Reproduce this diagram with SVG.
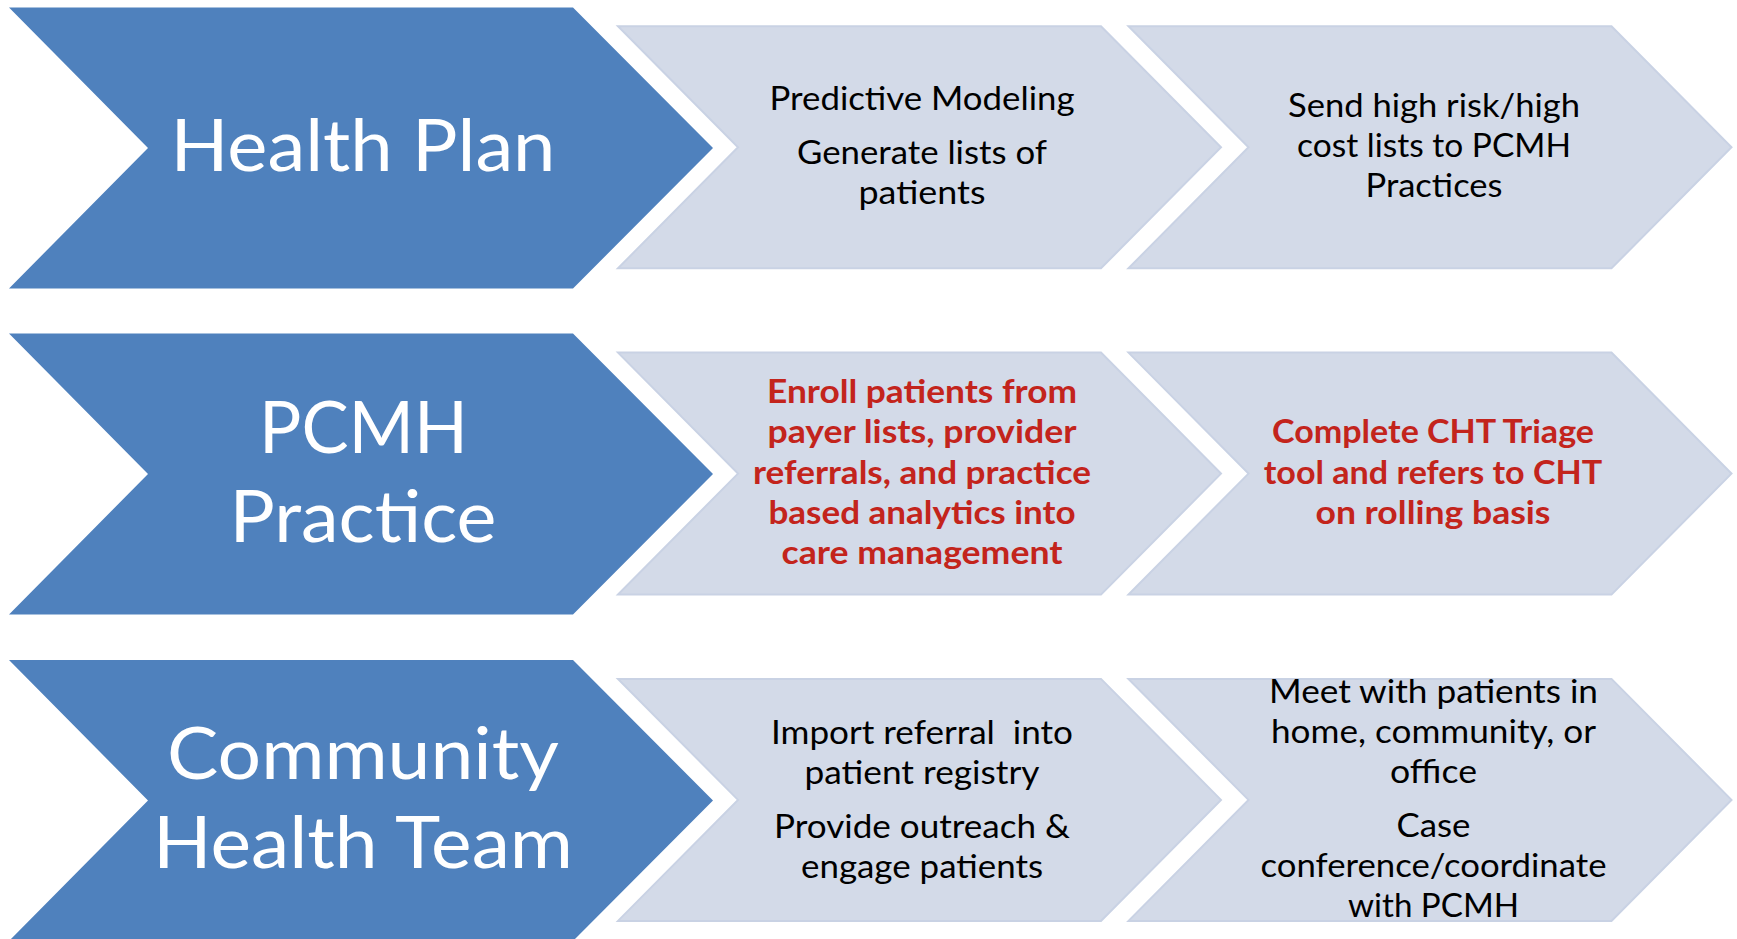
<svg xmlns="http://www.w3.org/2000/svg" xmlns:xlink="http://www.w3.org/1999/xlink" width="1737" height="939" viewBox="0 0 1737 939">
<style>
.blue{fill:#4F81BD;}
.gray{fill:#D3DAE8;stroke:#C9D2E4;stroke-width:2;}
.hd{font-family:Lato,"Liberation Sans",sans-serif;font-size:72px;fill:#FFFFFF;text-anchor:middle;}
.tx{font-family:Lato,"Liberation Sans",sans-serif;font-size:33px;fill:#000000;text-anchor:middle;}
.rd{font-family:Lato,"Liberation Sans",sans-serif;font-size:33px;font-weight:bold;fill:#C3241C;text-anchor:middle;}
</style>
<defs>
<polygon id="bchev" points="0,0 564,0 704,140.5 564,281 0,281 139,140.5"/>
<polygon id="gchev" points="0,0 483,0 603,121 483,242 0,242 120,121"/>
</defs>
<rect width="1737" height="939" fill="#FFFFFF"/>
<g id="connectors"/>
<g id="health-plan">
<use xlink:href="#bchev" href="#bchev" class="blue" x="9" y="7.5"/>
<text class="hd" x="363" y="170.5" textLength="385" lengthAdjust="spacingAndGlyphs">Health Plan</text>
</g>
<g id="hp-step1">
<use xlink:href="#gchev" href="#gchev" class="gray" x="618" y="26.3"/>
<text class="tx" x="922" y="110" textLength="305" lengthAdjust="spacingAndGlyphs">Predictive Modeling</text>
<text class="tx" x="922" y="164" textLength="250" lengthAdjust="spacingAndGlyphs">Generate lists of</text>
<text class="tx" x="922" y="203.5" textLength="127" lengthAdjust="spacingAndGlyphs">patients</text>
</g>
<g id="hp-step2">
<use xlink:href="#gchev" href="#gchev" class="gray" x="1128.5" y="26.3"/>
<text class="tx" x="1434" y="117.3" textLength="292" lengthAdjust="spacingAndGlyphs">Send high risk/high</text>
<text class="tx" x="1434" y="157.3" textLength="274" lengthAdjust="spacingAndGlyphs">cost lists to PCMH</text>
<text class="tx" x="1434" y="197.3" textLength="137" lengthAdjust="spacingAndGlyphs">Practices</text>
</g>
<g id="pcmh-practice">
<use xlink:href="#bchev" href="#bchev" class="blue" x="9" y="333.5"/>
<text class="hd" x="363.5" y="452.5" textLength="209" lengthAdjust="spacingAndGlyphs">PCMH</text>
<text class="hd" x="363" y="542" textLength="267" lengthAdjust="spacingAndGlyphs">Practice</text>
</g>
<g id="pcmh-step1">
<use xlink:href="#gchev" href="#gchev" class="gray" x="618" y="352.6"/>
<text class="rd" x="922" y="403" textLength="310" lengthAdjust="spacingAndGlyphs">Enroll patients from</text>
<text class="rd" x="922" y="443.3" textLength="309" lengthAdjust="spacingAndGlyphs">payer lists, provider</text>
<text class="rd" x="922" y="483.6" textLength="338" lengthAdjust="spacingAndGlyphs">referrals, and practice</text>
<text class="rd" x="922" y="524" textLength="307" lengthAdjust="spacingAndGlyphs">based analytics into</text>
<text class="rd" x="922" y="564.3" textLength="281" lengthAdjust="spacingAndGlyphs">care management</text>
</g>
<g id="pcmh-step2">
<use xlink:href="#gchev" href="#gchev" class="gray" x="1128.5" y="352.6"/>
<text class="rd" x="1433" y="443.3" textLength="322" lengthAdjust="spacingAndGlyphs">Complete CHT Triage</text>
<text class="rd" x="1433" y="483.6" textLength="338.5" lengthAdjust="spacingAndGlyphs">tool and refers to CHT</text>
<text class="rd" x="1433" y="524" textLength="235" lengthAdjust="spacingAndGlyphs">on rolling basis</text>
</g>
<g id="community-health-team">
<use xlink:href="#bchev" href="#bchev" class="blue" x="9" y="660"/>
<text class="hd" x="363" y="778.5" textLength="392" lengthAdjust="spacingAndGlyphs">Community</text>
<text class="hd" x="363" y="868" textLength="420" lengthAdjust="spacingAndGlyphs">Health Team</text>
</g>
<g id="cht-step1">
<use xlink:href="#gchev" href="#gchev" class="gray" x="618" y="678.9"/>
<text class="tx" x="922" y="744" textLength="302" lengthAdjust="spacingAndGlyphs" xml:space="preserve">Import referral  into</text>
<text class="tx" x="922" y="784" textLength="235" lengthAdjust="spacingAndGlyphs">patient registry</text>
<text class="tx" x="922" y="838" textLength="296" lengthAdjust="spacingAndGlyphs">Provide outreach &amp;</text>
<text class="tx" x="922" y="878" textLength="242" lengthAdjust="spacingAndGlyphs">engage patients</text>
</g>
<g id="cht-step2">
<use xlink:href="#gchev" href="#gchev" class="gray" x="1128.5" y="678.9"/>
<text class="tx" x="1433.5" y="703" textLength="329" lengthAdjust="spacingAndGlyphs">Meet with patients in</text>
<text class="tx" x="1433.5" y="743" textLength="325" lengthAdjust="spacingAndGlyphs">home, community, or</text>
<text class="tx" x="1433.5" y="783" textLength="87" lengthAdjust="spacingAndGlyphs">office</text>
<text class="tx" x="1433.5" y="837" textLength="74" lengthAdjust="spacingAndGlyphs">Case</text>
<text class="tx" x="1433.5" y="877" textLength="346" lengthAdjust="spacingAndGlyphs">conference/coordinate</text>
<text class="tx" x="1433.5" y="917" textLength="171" lengthAdjust="spacingAndGlyphs">with PCMH</text>
</g>
</svg>
